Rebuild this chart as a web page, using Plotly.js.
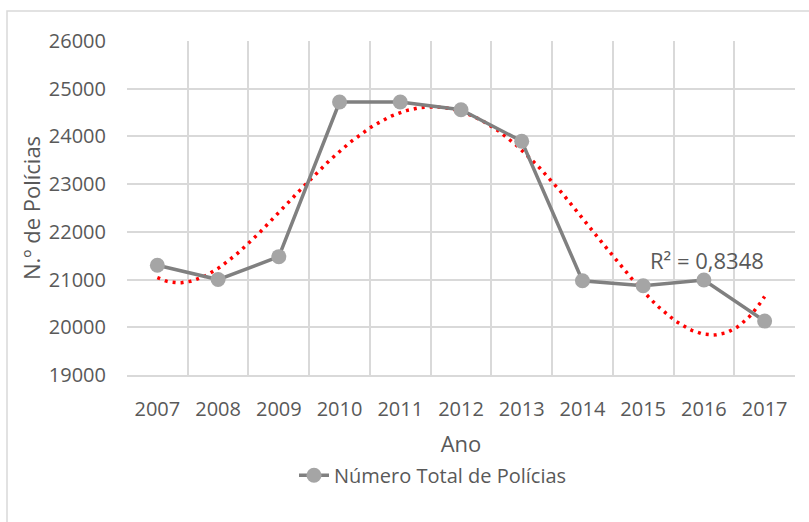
<!DOCTYPE html>
<html>
<head>
<meta charset="utf-8">
<script src="https://cdn.plot.ly/plotly-3.0.1.min.js"></script>
<style>
html,body{margin:0;padding:0;background:#fff;}
#chart{width:809px;height:522px;}
</style>
</head>
<body>
<div id="chart"></div>
<script>
const years = [2007, 2008, 2009, 2010, 2011, 2012, 2013, 2014, 2015, 2016, 2017];
const policias = [21300, 21000, 21480, 24720, 24720, 24560, 23900, 20975, 20870, 20990, 20130];
const seriesName = 'Número Total de Polícias';
const r2Label = 'R² = 0,8348';
const trendDegree = 4;

// Polynomial least-squares trendline (as in the spreadsheet), computed from the data
function polyfit(xs, ys, deg) {
  const n = deg + 1;
  const A = [];
  for (let i = 0; i < n; i++) {
    A.push(new Array(n + 1).fill(0));
  }
  for (let k = 0; k < xs.length; k++) {
    for (let i = 0; i < n; i++) {
      for (let j = 0; j < n; j++) A[i][j] += Math.pow(xs[k], i + j);
      A[i][n] += ys[k] * Math.pow(xs[k], i);
    }
  }
  for (let i = 0; i < n; i++) {
    let p = i;
    for (let r = i + 1; r < n; r++) if (Math.abs(A[r][i]) > Math.abs(A[p][i])) p = r;
    [A[i], A[p]] = [A[p], A[i]];
    for (let r = 0; r < n; r++) {
      if (r === i) continue;
      const f = A[r][i] / A[i][i];
      for (let c = i; c <= n; c++) A[r][c] -= f * A[i][c];
    }
  }
  return A.map((row, i) => row[n] / row[i]);
}
const xc = years.map(y => y - 2012);
const coef = polyfit(xc, policias, trendDegree);
const trendX = [], trendY = [];
for (let i = 0; i <= 200; i++) {
  const x = 2007 + i * 10 / 200;
  let v = 0;
  for (let p = 0; p < coef.length; p++) v += coef[p] * Math.pow(x - 2012, p);
  trendX.push(x); trendY.push(v);
}

const font = 'Open Sans, Noto Sans, sans-serif';
const txt = '#595959';
const grid = '#d9d9d9';

const traces = [
  {
    x: trendX, y: trendY, type: 'scatter', mode: 'lines',
    line: {color: '#ff0000', width: 3.5, dash: '3px,5px'},
    showlegend: false, hoverinfo: 'skip'
  },
  {
    x: years, y: policias, type: 'scatter', mode: 'lines+markers',
    name: seriesName,
    line: {color: '#808080', width: 3.5},
    marker: {color: '#a5a5a5', size: 15}
  }
];

const layout = {
  width: 809, height: 522,
  margin: {l: 127, r: 14, t: 41, b: 147},
  paper_bgcolor: '#ffffff', plot_bgcolor: '#ffffff',
  font: {family: font, color: txt, size: 20},
  xaxis: {
    type: 'linear',
    range: [2006.5, 2017.5],
    tickvals: years, ticktext: years.map(String),
    showgrid: false, zeroline: false,
    showline: true, linecolor: grid, linewidth: 2,
    ticks: '', ticklen: 0,
    ticklabelstandoff: 15,
    minor: {tick0: 2006.5, dtick: 1, showgrid: true, gridcolor: grid, gridwidth: 2, ticks: ''},
    tickfont: {size: 20, color: txt, family: font},
    title: {text: 'Ano', font: {size: 22, color: txt, family: font}, standoff: 16},
    fixedrange: true
  },
  yaxis: {
    range: [19000, 26000], dtick: 1000, tick0: 19000,
    tickformat: 'd',
    showgrid: true, gridcolor: grid, gridwidth: 2,
    zeroline: false, showline: false,
    ticks: '', tickfont: {size: 20, color: txt, family: font},
    ticklabelstandoff: 20,
    title: {text: 'N.º de Polícias', font: {size: 22, color: txt, family: font}, standoff: 2},
    fixedrange: true
  },
  legend: {
    orientation: 'h', x: 0.25, xanchor: 'left', y: -0.30, yanchor: 'middle',
    font: {size: 20, color: txt, family: font},
    bgcolor: 'rgba(0,0,0,0)'
  },
  annotations: [{
    x: 2016.05, y: 21420, xref: 'x', yref: 'y',
    text: r2Label, showarrow: false,
    font: {size: 22, color: txt, family: font}
  }],
  shapes: [{
    type: 'rect', xref: 'paper', yref: 'paper',
    x0: (7 - 127) / 668, x1: 1.2, y0: -1, y1: 1 + 30 / 334,
    line: {color: '#d9d9d9', width: 1.5}, layer: 'below'
  }]
};

Plotly.newPlot('chart', traces, layout, {displayModeBar: false, staticPlot: true});
</script>
</body>
</html>
